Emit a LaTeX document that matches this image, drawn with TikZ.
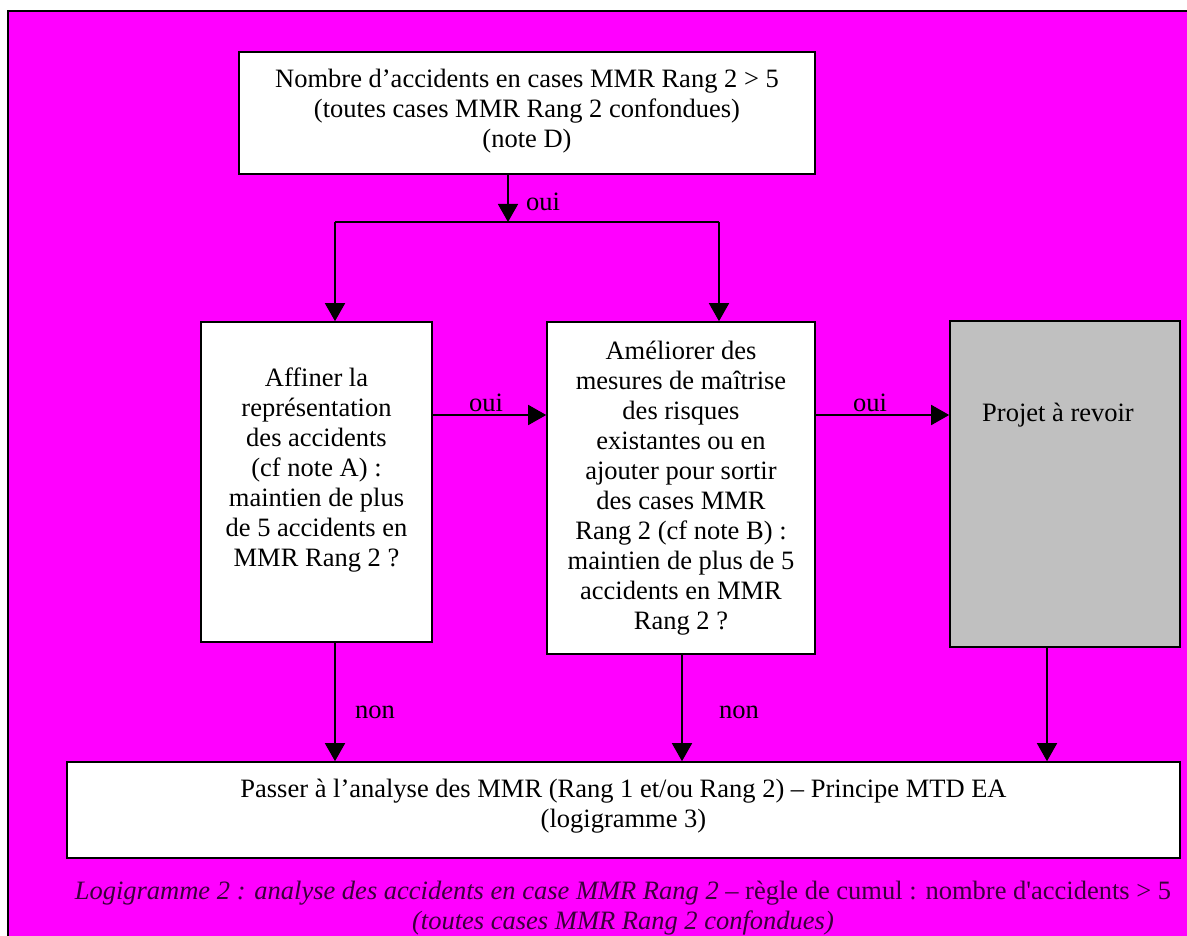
\documentclass[tikz,border=0pt]{standalone}
\usepackage{fontspec}
\setmainfont{Liberation Serif}
\usetikzlibrary{arrows.meta}
\definecolor{pagebg}{HTML}{FF00FF}
\definecolor{greybox}{HTML}{C0C0C0}
\definecolor{captioncol}{HTML}{3A003A}
\begin{document}
\begin{tikzpicture}[x=1pt,y=-1pt,
  box/.style={draw=black,line width=1.6pt,fill=white,inner sep=0pt},
  txt/.style={align=center,inner sep=0pt,font=\fontsize{26.5}{30}\selectfont},
  lbl/.style={inner sep=0pt,font=\fontsize{26.5}{30}\selectfont},
  arr/.style={line width=1.6pt,-{Triangle[length=18pt,width=20pt]}},
  ln/.style={line width=1.6pt}]
\useasboundingbox (0,0) rectangle (1187,936);
% magenta page frame, open on the right and bottom
\fill[pagebg] (8,11) rectangle (1187,936);
\draw[line width=2pt] (8,936) -- (8,11) -- (1187,11);

% boxes
\node[box,minimum width=576,minimum height=122] (T) at (527,113) {};
\node[txt] (Tt) at (527,111) {Nombre d’accidents en cases MMR Rang 2 > 5\\(toutes cases MMR Rang 2 confondues)\\(note D)};

\node[box,minimum width=231,minimum height=320] (L) at (316.5,482) {};
\node[txt] (Lt) at (316.5,470) {Affiner la\\représentation\\des accidents\\(cf note A) :\\maintien de plus\\de 5 accidents en\\MMR Rang 2 ?};

\node[box,minimum width=268,minimum height=332] (M) at (681,488) {};
\node[txt] (Mt) at (681,488) {Améliorer des\\mesures de maîtrise\\des risques\\existantes ou en\\ajouter pour sortir\\des cases MMR\\Rang 2 (cf note B) :\\maintien de plus de 5\\accidents en MMR\\Rang 2 ?};

\node[box,fill=greybox,minimum width=230,minimum height=326] (G) at (1065,484) {};
\node[txt] (Gt) at (1058,415) {Projet à revoir};

\node[box,minimum width=1113,minimum height=96] (B) at (623.5,810) {};
\node[txt] (Bt) at (623.5,806) {Passer à l’analyse des MMR (Rang 1 et/ou Rang 2) – Principe MTD EA\\(logigramme 3)};

\node[txt,text=captioncol] (C) at (623,908) {\textit{Logigramme 2 : analyse des accidents en case MMR Rang 2} – règle de cumul : nombre d\textquotesingle accidents > 5\\\textit{(toutes cases MMR Rang 2 confondues)}};

% branching under the top box
\coordinate (j) at (508,222);
\coordinate (jl) at (335,222);
\coordinate (jr) at (719,222);
\draw[arr] (j |- T.south) -- (j);
\draw[ln] (jl) -- (jr);
\draw[arr] (jl) -- (jl |- L.north);
\draw[arr] (jr) -- (jr |- M.north);
\node[lbl] (o1) at (543,202) {oui};

% horizontal "oui" arrows
\coordinate (h) at (0,415);
\draw[arr] (L.east |- h) -- (M.west |- h);
\draw[arr] (M.east |- h) -- (G.west |- h);
\node[lbl] (o2) at (486,403) {oui};
\node[lbl] (o3) at (870,403) {oui};

% arrows down to the bottom box
\coordinate (dl) at (335,0);
\coordinate (dm) at (682,0);
\coordinate (dg) at (1047,0);
\draw[arr] (dl |- L.south) -- (dl |- B.north);
\draw[arr] (dm |- M.south) -- (dm |- B.north);
\draw[arr] (dg |- G.south) -- (dg |- B.north);
\node[lbl] (n1) at (375,712) {non};
\node[lbl] (n2) at (739,712) {non};
\end{tikzpicture}
\end{document}
